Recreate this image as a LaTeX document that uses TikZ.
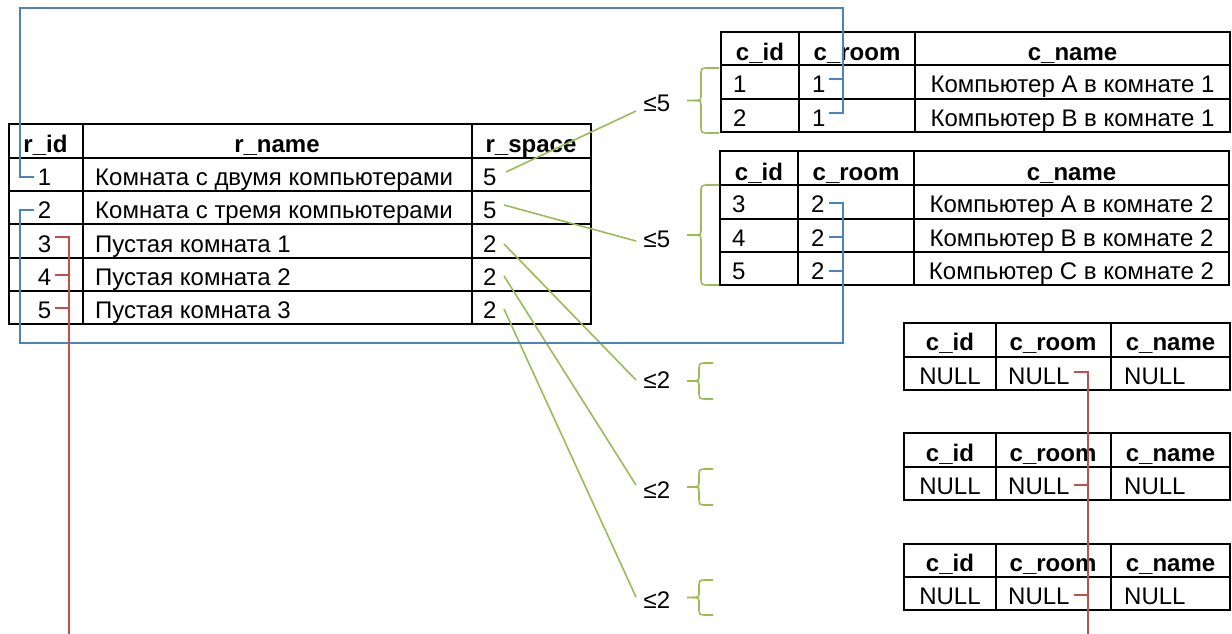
\documentclass[tikz,border=0pt]{standalone}
\usepackage{fontspec}
\setmainfont{Liberation Sans}
\definecolor{lnblue}{HTML}{4F81BD}
\definecolor{lnred}{HTML}{C0504D}
\definecolor{lngreen}{HTML}{9BBB59}
\newcommand\mybrace[5]{% x-vertical, x-right, x-tip, ytop, ybottom
  \pgfmathsetmacro\ymid{(#4+#5)/2}
  \draw[greenline] (#2,#4) -- ({#1+8},#4) .. controls (#1,#4) .. (#1,{#4+8}) -- (#1,{\ymid-7}) .. controls (#1,\ymid) .. ({#1-7},\ymid) -- (#3,\ymid);
  \draw[greenline] (#2,#5) -- ({#1+8},#5) .. controls (#1,#5) .. (#1,{#5-8}) -- (#1,{\ymid+7}) .. controls (#1,\ymid) .. ({#1-7},\ymid);
}
\begin{document}
\begin{tikzpicture}[x=1pt,y=-1pt,
  font=\fontsize{24}{28}\selectfont,
  cell/.style={inner sep=0pt, anchor=base},
  lcell/.style={inner sep=0pt, anchor=base west},
  hdr/.style={inner sep=0pt, anchor=base, font=\fontsize{24}{28}\selectfont\bfseries},
  grid/.style={line width=2pt, black},
  blueline/.style={lnblue, line width=1.6pt},
  redline/.style={lnred, line width=1.6pt},
  greenline/.style={lngreen, line width=1.6pt},
  lab/.style={inner sep=0pt, anchor=base}]
\useasboundingbox (0,0) rectangle (1232,634);

% ---------- rooms table ----------
\draw[grid] (9,124) rectangle (591,324);
\foreach \y in {157.5,191,224,257.5,291} \draw[grid] (9,\y) -- (591,\y);
\foreach \x in {82.5,472} \draw[grid] (\x,124) -- (\x,324);
\node[hdr] (Lh1) at (45.5,152) {r\_id};
\node[hdr] (Lh2) at (277,152) {r\_name};
\node[hdr] (Lh3) at (531,152) {r\_space};
\foreach \i/\yb/\n/\s in {1/185/{Комната с двумя компьютерами}/5,
  2/218.5/{Комната с тремя компьютерами}/5,
  3/252/{Пустая комната 1}/2,
  4/285/{Пустая комната 2}/2,
  5/318.5/{Пустая комната 3}/2} {
  \node[cell] (L\i-a) at (44.5,\yb) {\i};
  \node[lcell] (L\i-b) at (95,\yb) {\n};
  \node[lcell] (L\i-c) at (483,\yb) {\s};
}

% ---------- computers table 1 ----------
\draw[grid] (721,32) rectangle (1230,132);
\foreach \y in {65,98.5} \draw[grid] (721,\y) -- (1230,\y);
\foreach \x in {799,915} \draw[grid] (\x,32) -- (\x,132);
\node[hdr] (Ah1) at (760,60) {c\_id};
\node[hdr] (Ah2) at (857,60) {c\_room};
\node[hdr] (Ah3) at (1072.5,60) {c\_name};
\node[lcell] (A1-a) at (733,92.5) {1};
\node[lcell] (A1-b) at (812,92.5) {1};
\node[cell] (A1-c) at (1072.5,92.5) {Компьютер A в комнате 1};
\node[lcell] (A2-a) at (733,126) {2};
\node[lcell] (A2-b) at (812,126) {1};
\node[cell] (A2-c) at (1072.5,126) {Компьютер B в комнате 1};

% ---------- computers table 2 ----------
\draw[grid] (720,151) rectangle (1229,285);
\foreach \y in {185,218.5,252} \draw[grid] (720,\y) -- (1229,\y);
\foreach \x in {798,914} \draw[grid] (\x,151) -- (\x,285);
\node[hdr] (Bh1) at (759,180) {c\_id};
\node[hdr] (Bh2) at (856,180) {c\_room};
\node[hdr] (Bh3) at (1071.5,180) {c\_name};
\foreach \i/\yb/\l in {3/212.5/A,4/246/B,5/279.5/C} {
  \node[lcell] (B\i-a) at (732,\yb) {\i};
  \node[lcell] (B\i-b) at (811,\yb) {2};
  \node[cell] (B\i-c) at (1071.5,\yb) {Компьютер \l\ в комнате 2};
}

% ---------- NULL tables ----------
\foreach \k/\t/\m/\b in {1/323/356.5/390, 2/433/467/500, 3/544/577/610} {
  \draw[grid] (904,\t) rectangle (1230,\b);
  \draw[grid] (904,\m) -- (1230,\m);
  \foreach \x in {995.5,1111} \draw[grid] (\x,\t) -- (\x,\b);
  \node[hdr] (N\k h1) at (950,\m-6) {c\_id};
  \node[hdr] (N\k h2) at (1053,\m-6) {c\_room};
  \node[hdr] (N\k h3) at (1170.5,\m-6) {c\_name};
  \node[cell] (N\k-a) at (950,\b-6) {NULL};
  \node[lcell] (N\k-b) at (1008,\b-6) {NULL};
  \node[lcell] (N\k-c) at (1124,\b-6) {NULL};
}

% ---------- braces and labels ----------
\mybrace{701}{719}{687}{68}{133}
\mybrace{701}{719}{687}{185}{285}
\mybrace{699}{713}{687}{363}{399}
\mybrace{699}{713}{687}{469}{505}
\mybrace{699}{713}{687}{580}{615}
\node[lab] (S1) at (657,111) {≤5};
\node[lab] (S2) at (657,247) {≤5};
\node[lab] (S3) at (657,388) {≤2};
\node[lab] (S4) at (657,498) {≤2};
\node[lab] (S5) at (657,608) {≤2};

% ---------- green connectors ----------
\coordinate (g1s) at (506,172); \coordinate (g1e) at (636,111);
\coordinate (g2s) at (504,205); \coordinate (g2e) at (636,241);
\coordinate (g3s) at (504,244); \coordinate (g3e) at (636,380);
\coordinate (g4s) at (504,276); \coordinate (g4e) at (636,485);
\coordinate (g5s) at (504,309); \coordinate (g5e) at (636,597);
\foreach \i in {1,...,5} \draw[greenline] (g\i s) -- (g\i e);

% ---------- blue connectors ----------
\coordinate (b1a) at (34,177); \coordinate (b1b) at (829,113); \coordinate (b1c) at (829,79);
\draw[blueline] (b1a) -- (20,177) -- (20,8) -- (843,8) -- (843,113) -- (b1b);
\draw[blueline] (b1c) -- (843,79);
\coordinate (b2a) at (34,210); \coordinate (b2b) at (829,203);
\coordinate (b2c) at (829,237); \coordinate (b2d) at (829,271);
\draw[blueline] (b2a) -- (20,210) -- (20,343) -- (843,343) -- (843,203) -- (b2b);
\draw[blueline] (b2c) -- (843,237);
\draw[blueline] (b2d) -- (843,271);

% ---------- red connectors ----------
\coordinate (r1a) at (55,237); \coordinate (r1b) at (55,275); \coordinate (r1c) at (55,308);
\coordinate (r1e) at (69,634);
\draw[redline] (r1a) -- (69,237) -- (r1e);
\draw[redline] (r1b) -- (69,275);
\draw[redline] (r1c) -- (69,308);
\coordinate (r2a) at (1074,372); \coordinate (r2b) at (1074,485); \coordinate (r2c) at (1074,595);
\coordinate (r2e) at (1088,634);
\draw[redline] (r2a) -- (1088,372) -- (r2e);
\draw[redline] (r2b) -- (1088,485);
\draw[redline] (r2c) -- (1088,595);
\end{tikzpicture}
\end{document}
